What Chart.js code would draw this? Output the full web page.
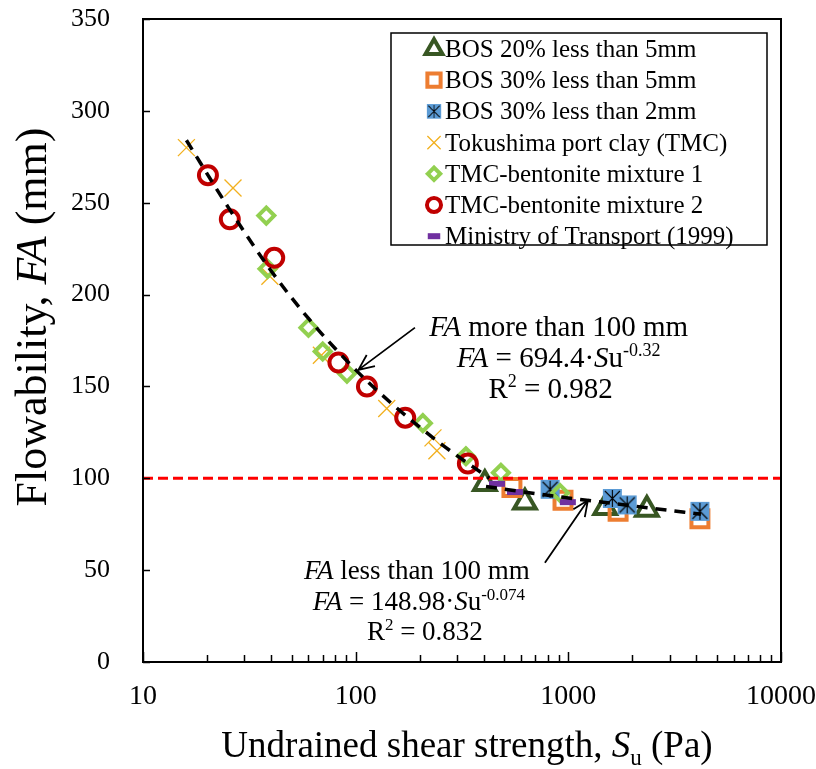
<!DOCTYPE html>
<html>
<head>
<meta charset="utf-8">
<script src="https://cdn.jsdelivr.net/npm/chart.js@4.4.1/dist/chart.umd.min.js"></script>
<style>
    html, body { margin: 0; padding: 0; background: #fff; }
</style>
</head>
<body>
<canvas id="flowChart" width="816" height="769"></canvas>
<script>
// === DATA ===
const bos20X = [405, 625, 1490, 2340];
const bos20Y = [97, 87, 84, 83];

const bos30x5X = [543, 944, 1714, 4157];
const bos30x5Y = [95, 88, 82, 78];

const bos30x2X = [821, 1610, 1890, 4157];
const bos30x2Y = [94, 89, 85.5, 82];

const tmcX = [16, 26.5, 39.5, 69, 140, 231, 241];
const tmcY = [280, 258, 210, 167, 138, 122, 115];

const mix1X = [38, 38.5, 60, 70, 91, 207, 330, 482, 914];
const mix1Y = [243, 214, 182, 169, 157, 130, 112, 103, 92];

const mix2X = [20.2, 25.6, 41.4, 83, 113, 171, 337];
const mix2Y = [265, 241, 220, 163, 150, 133, 108];

const motX = [462, 561, 995];
const motY = [97, 92.5, 87];

// dashed trend curves
const fitUpX = [16, 25, 40, 60, 100, 150, 250, 425];
const fitUpY = [284, 248, 213, 187, 159, 140, 119, 100];
const fitLowX = [410, 700, 1000, 2000, 4200];
const fitLowY = [95.5, 91.7, 89.3, 85, 80.4];

// 100 mm limit
const limitX = [10, 10000];
const limitY = [100, 100];

const xDecades = [10, 100, 1000, 10000];
const yTicks = [0, 50, 100, 150, 200, 250, 300, 350];

const legendLabels = [
    'BOS 20% less than 5mm',
    'BOS 30% less than 5mm',
    'BOS 30% less than 2mm',
    'Tokushima port clay (TMC)',
    'TMC-bentonite mixture 1',
    'TMC-bentonite mixture 2',
    'Ministry of Transport (1999)'
];

const pts = (xs, ys) => xs.map((x, i) => ({ x: x, y: ys[i] }));

const SERIF = '"Liberation Serif", "Times New Roman", serif';

// === BLUE STAR-SQUARE MARKER ===
function starSquare(size) {
    const c = document.createElement('canvas');
    c.width = size; c.height = size;
    const g = c.getContext('2d');
    const p = 1;
    g.fillStyle = '#5B9BD5';
    g.fillRect(p, p, size - 2 * p, size - 2 * p);
    g.strokeStyle = '#000';
    g.lineWidth = 1.1;
    g.beginPath();
    g.moveTo(p + 2, p + 2); g.lineTo(size - p - 2, size - p - 2);
    g.moveTo(size - p - 2, p + 2); g.lineTo(p + 2, size - p - 2);
    g.moveTo(size / 2, p + 1); g.lineTo(size / 2, size - p - 1);
    g.stroke();
    return c;
}
const blueMarker = starSquare(21);

// === RICH TEXT HELPER ===
function drawRuns(ctx, runs, x, y, size, align) {
    const fontOf = r => `${r.i ? 'italic ' : ''}${r.s ? Math.round(size * 0.62) : size}px ${SERIF}`;
    let total = 0;
    runs.forEach(r => { ctx.font = fontOf(r); r.w = ctx.measureText(r.t).width; total += r.w; });
    let cx = align === 'center' ? x - total / 2 : x;
    ctx.textAlign = 'left';
    ctx.textBaseline = 'alphabetic';
    runs.forEach(r => {
        ctx.font = fontOf(r);
        const dy = r.s === 'sup' ? -size * 0.36 : (r.s === 'sub' ? size * 0.22 : 0);
        ctx.fillText(r.t, cx, y + dy);
        cx += r.w;
    });
}

function arrow(ctx, x1, y1, x2, y2) {
    const a = Math.atan2(y2 - y1, x2 - x1);
    const hl = 17, spread = 0.42;
    ctx.beginPath();
    ctx.moveTo(x1, y1); ctx.lineTo(x2, y2);
    ctx.moveTo(x2 - hl * Math.cos(a - spread), y2 - hl * Math.sin(a - spread));
    ctx.lineTo(x2, y2);
    ctx.lineTo(x2 - hl * Math.cos(a + spread), y2 - hl * Math.sin(a + spread));
    ctx.stroke();
}

// === DECORATION PLUGIN: frame, inner ticks, notes, titles, legend ===
const decor = {
    id: 'decor',
    afterDraw(chart) {
        const ctx = chart.ctx;
        const xs = chart.scales.x, ys = chart.scales.y;
        const a = chart.chartArea;
        ctx.save();
        ctx.fillStyle = '#000';
        ctx.strokeStyle = '#000';

        // frame
        ctx.lineWidth = 2;
        ctx.strokeRect(a.left, a.top, a.right - a.left, a.bottom - a.top);

        // inner tick marks
        ctx.lineWidth = 1.5;
        ctx.beginPath();
        xs.ticks.forEach(t => {
            const px = Math.round(xs.getPixelForValue(t.value)) + 0.5;
            const len = xDecades.includes(t.value) ? 10 : 7;
            ctx.moveTo(px, a.bottom); ctx.lineTo(px, a.bottom - len);
        });
        yTicks.forEach(v => {
            const py = Math.round(ys.getPixelForValue(v)) + 0.5;
            ctx.moveTo(a.left, py); ctx.lineTo(a.left + 7, py);
        });
        ctx.stroke();

        // arrows
        ctx.lineWidth = 1.8;
        arrow(ctx, xs.getPixelForValue(190), ys.getPixelForValue(182),
                   xs.getPixelForValue(103), ys.getPixelForValue(159));
        arrow(ctx, xs.getPixelForValue(776), ys.getPixelForValue(54),
                   xs.getPixelForValue(1236), ys.getPixelForValue(88));

        // upper fit note
        const ux = xs.getPixelForValue(900), uy = ys.getPixelForValue(183);
        drawRuns(ctx, [{ t: 'FA', i: 1 }, { t: ' more than 100 mm' }], ux, uy + 10, 29, 'center');
        drawRuns(ctx, [{ t: 'FA', i: 1 }, { t: ' = 694.4\u00b7' }, { t: 'S', i: 1 }, { t: 'u' }, { t: '-0.32', s: 'sup' }],
                 ux, uy + 41, 29, 'center');
        drawRuns(ctx, [{ t: 'R' }, { t: '2', s: 'sup' }, { t: ' = 0.982' }], ux - 8, uy + 72, 29, 'center');

        // lower fit note
        const lx = xs.getPixelForValue(194), ly = ys.getPixelForValue(50);
        drawRuns(ctx, [{ t: 'FA', i: 1 }, { t: ' less than 100 mm' }], lx, ly + 9, 27, 'center');
        drawRuns(ctx, [{ t: 'FA', i: 1 }, { t: ' = 148.98\u00b7' }, { t: 'S', i: 1 }, { t: 'u' }, { t: '-0.074', s: 'sup' }],
                 lx + 2, ly + 40, 27, 'center');
        drawRuns(ctx, [{ t: 'R' }, { t: '2', s: 'sup' }, { t: ' = 0.832' }], lx + 8, ly + 70, 27, 'center');

        // axis titles
        drawRuns(ctx, [{ t: 'Undrained shear strength, ' }, { t: 'S', i: 1 }, { t: 'u', s: 'sub' }, { t: ' (Pa)' }],
                 (a.left + a.right) / 2 + 5, 757, 37, 'center');
        ctx.save();
        ctx.translate(46, 317);
        ctx.rotate(-Math.PI / 2);
        drawRuns(ctx, [{ t: 'Flowability, ' }, { t: 'FA', i: 1 }, { t: ' (mm)' }], 0, 0, 44, 'center');
        ctx.restore();

        // legend
        const bx = 391, by = 33, bw = 376, bh = 212;
        ctx.fillStyle = '#fff';
        ctx.fillRect(bx, by, bw, bh);
        ctx.strokeStyle = '#000';
        ctx.lineWidth = 1.5;
        ctx.strokeRect(bx, by, bw, bh);
        const markers = chart.data.datasets.filter(d => d.legend);
        markers.sort((p, q) => p.legend - q.legend);
        markers.forEach((d, i) => {
            const my = by + 16 + i * 31.2;
            const mx = bx + 43;
            if (d.pointStyle === blueMarker) {
                ctx.drawImage(blueMarker, mx - 8, my - 8, 16, 16);
            } else {
                ctx.fillStyle = 'rgba(0,0,0,0)';
                ctx.strokeStyle = d.pointBorderColor;
                ctx.lineWidth = d.pointBorderWidth;
                Chart.helpers.drawPoint(ctx, {
                    pointStyle: d.pointStyle, rotation: 0,
                    radius: d.pointRadius * 0.78, borderWidth: d.pointBorderWidth
                }, mx, my);
            }
            ctx.fillStyle = '#000';
            drawRuns(ctx, [{ t: legendLabels[d.legend - 1] }], mx + 11, my + 8, 25, 'left');
        });
        ctx.restore();
    }
};

// === SERIES ===
function markerSet(label, xs, ys, style, color, radius, bw, legendIdx, order) {
    return {
        label: label, data: pts(xs, ys), legend: legendIdx, order: order,
        pointStyle: style, pointRadius: radius, pointHoverRadius: radius,
        pointBorderColor: color, pointBackgroundColor: 'rgba(0,0,0,0)',
        pointBorderWidth: bw, showLine: false
    };
}

const datasets = [
    {
        label: 'fit FA > 100', data: pts(fitUpX, fitUpY), order: 0,
        showLine: true, pointRadius: 0, borderColor: '#000', borderWidth: 3.5,
        borderDash: [11, 8], cubicInterpolationMode: 'monotone', fill: false
    },
    {
        label: 'fit FA < 100', data: pts(fitLowX, fitLowY), order: 0,
        showLine: true, pointRadius: 0, borderColor: '#000', borderWidth: 3.5,
        borderDash: [11, 8], cubicInterpolationMode: 'monotone', fill: false
    },
    {
        label: '100 mm', data: pts(limitX, limitY), order: 1,
        showLine: true, pointRadius: 0, borderColor: '#FF0000', borderWidth: 3,
        borderDash: [10, 5], fill: false
    },
    markerSet(legendLabels[6], motX, motY, 'line', '#7030A0', 8, 6, 7, 2),
    markerSet(legendLabels[5], mix2X, mix2Y, 'circle', '#C00000', 9, 4, 6, 3),
    markerSet(legendLabels[4], mix1X, mix1Y, 'rectRot', '#92D050', 8, 4, 5, 4),
    markerSet(legendLabels[3], tmcX, tmcY, 'crossRot', '#F2B01E', 12, 1.3, 4, 5),
    markerSet(legendLabels[2], bos30x2X, bos30x2Y, blueMarker, '#5B9BD5', 10, 0, 3, 6),
    markerSet(legendLabels[1], bos30x5X, bos30x5Y, 'rect', '#ED7D31', 12, 4, 2, 7),
    markerSet(legendLabels[0], bos20X, bos20Y, 'triangle', '#385723', 12.5, 4, 1, 8)
];

new Chart(document.getElementById('flowChart'), {
    type: 'scatter',
    data: { datasets: datasets },
    plugins: [decor],
    options: {
        responsive: false,
        animation: false,
        layout: { padding: { top: 19, right: 35, left: 0, bottom: 0 } },
        plugins: { legend: { display: false }, tooltip: { enabled: false } },
        scales: {
            x: {
                type: 'logarithmic', min: 10, max: 10000,
                afterFit: s => { s.height = 107; s.paddingLeft = 0; s.paddingRight = 0; },
                afterBuildTicks: s => {
                    const t = [];
                    xDecades.forEach((d, i) => {
                        if (i === xDecades.length - 1) { t.push({ value: d }); return; }
                        for (let k = 1; k < 10; k++) t.push({ value: d * k });
                    });
                    s.ticks = t;
                },
                grid: { display: false }, border: { display: false },
                ticks: {
                    autoSkip: false, maxRotation: 0, padding: 10, color: '#000',
                    font: { family: SERIF, size: 28 },
                    callback: v => xDecades.includes(v) ? String(v) : ''
                }
            },
            y: {
                min: 0, max: 350,
                afterFit: s => { s.width = 143; s.paddingTop = 0; s.paddingBottom = 0; },
                afterBuildTicks: s => { s.ticks = yTicks.map(v => ({ value: v })); },
                grid: { display: false }, border: { display: false },
                ticks: {
                    padding: 25, color: '#000',
                    font: { family: SERIF, size: 26 }
                }
            }
        }
    }
});
</script>
</body>
</html>
